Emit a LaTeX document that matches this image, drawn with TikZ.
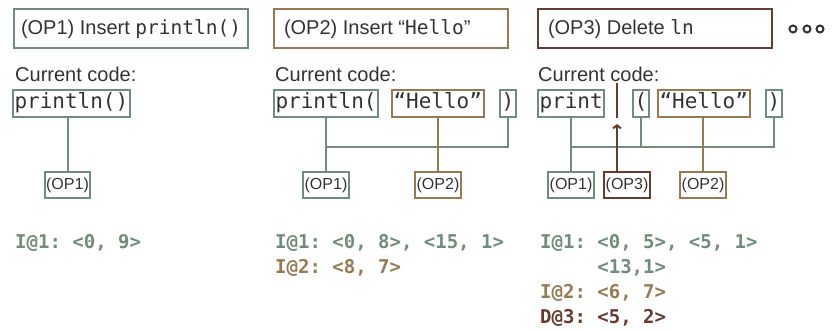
\documentclass[tikz,border=0pt]{standalone}
\usepackage{fontspec}
\setmainfont{Liberation Sans}
\setmonofont{DejaVu Sans Mono}
\usepackage{tikz}
\usetikzlibrary{arrows.meta,positioning}

\definecolor{opgreen}{RGB}{112,140,124}
\definecolor{opbrown}{RGB}{152,122,82}
\definecolor{opred}{RGB}{104,58,48}
\definecolor{ink}{RGB}{51,51,51}

\newcommand{\headfont}{\fontsize{20}{24}\selectfont}
\newcommand{\srcfont}{\ttfamily\fontsize{21}{25}\selectfont}
\newcommand{\opfont}{\fontsize{16}{18}\selectfont}
\newcommand{\tracefont}{\ttfamily\bfseries\fontsize{19}{25}\selectfont}
\newcommand{\inl}[1]{{\ttfamily\fontsize{19.5}{24}\selectfont #1}}
\newcommand{\headline}[1]{\hbox to 220pt{#1\hfil}}

\begin{document}
\begin{tikzpicture}[x=1pt, y=-1pt,
  head/.style={draw, line width=2pt, text=ink, font=\headfont, anchor=west,
    inner xsep=7pt, minimum height=39pt},
  src/.style={draw=opgreen, line width=2pt, text=ink, font=\srcfont, anchor=west,
    inner xsep=1.5pt, inner ysep=0pt, text height=15pt, text depth=5pt, minimum height=27pt},
  lab/.style={text=ink, font=\headfont, anchor=base west, inner sep=0pt},
  op/.style={draw, line width=1.8pt, text=ink, font=\opfont, inner xsep=1.5pt,
    inner ysep=0pt, minimum height=26pt},
  wire/.style={line width=2pt, opgreen},
  trace/.style={font=\tracefont, anchor=base west, inner sep=0pt}]
  \useasboundingbox (0,0) rectangle (840,331);

  % OP1: insert println()
  \node[head, draw=opgreen] (h1) at (13,29) {\headline{(OP1) Insert \inl{println()}}};
  \node[lab] (cur1) at (15,82) {Current code:};
  \node[src] (c1) at (12,104) {println()};
  \node[op, draw=opgreen] (o1) at (67.5,185) {(OP1)};
  \draw[wire] (o1.north) -- (o1.north |- c1.south);
  \node[trace, opgreen] (t1a) at (15,248) {I@1: <0, 9>};

  % OP2: insert "Hello"
  \node[head, draw=opbrown] (h2) at (273,29) {\headline{\hspace*{3pt}(OP2) Insert “\inl{Hello}”}};
  \node[lab] (cur2) at (275,82) {Current code:};
  \node[src] (c2a) at (273,104) {println(};
  \node[src, draw=opbrown] (c2b) at (391,104) {“Hello”};
  \node[src] (c2c) at (499,104) {)};
  \node[op, draw=opgreen] (o2a) at (326,185) {(OP1)};
  \node[op, draw=opbrown] (o2b) at (438,185) {(OP2)};
  \coordinate (bus2) at (0,147);
  \draw[wire] (o2a.north) -- (o2a.north |- c2a.south);
  \draw[wire] (o2a |- bus2) -| (c2c.south);
  \draw[wire, opbrown] (o2b.north) -- (o2b.north |- c2b.south);
  \node[trace, opgreen] (t2a) at (275,248) {I@1: <0, 8>, <15, 1>};
  \node[trace, opbrown] (t2b) at (275,273) {I@2: <8, 7>};

  % OP3: delete ln
  \node[head, draw=opred] (h3) at (537,29) {\headline{\hspace*{3pt}(OP3) Delete \inl{ln}}};
  \node[lab] (cur3) at (538,82) {Current code:};
  \node[src] (c3a) at (537,104) {print};
  \node[src] (c3b) at (632,104) {(};
  \node[src, draw=opbrown] (c3c) at (657,104) {“Hello”};
  \node[src] (c3d) at (765,104) {)};
  \node[op, draw=opgreen] (o3a) at (571,185) {(OP1)};
  \node[op, draw=opred] (o3c) at (627,185) {(OP3)};
  \node[op, draw=opbrown] (o3b) at (703,185) {(OP2)};
  \coordinate (bus3) at (0,147);
  \draw[wire] (o3a.north) -- (o3a.north |- c3a.south);
  \draw[wire] (o3a |- bus3) -| (c3d.south);
  \draw[wire] (c3b.south) -- (c3b.south |- bus3);
  \draw[wire, opbrown] (o3b.north) -- (o3b.north |- c3c.south);
  % cut mark where ln was
  \coordinate (cut) at (617,83);
  \draw[wire, opred] (cut) -- (cut |- c3a.south);
  \draw[wire, opred, -{Straight Barb[length=3pt, width=8pt]}] (o3c.north -| cut) -- ++(0,-47);
  \node[trace, opgreen] (t3a) at (540,248) {I@1: <0, 5>, <5, 1>};
  \node[trace, opgreen] (t3b) at (540,273) {\hphantom{I@1: }<13,1>};
  \node[trace, opbrown] (t3c) at (540,298) {I@2: <6, 7>};
  \node[trace, opred] (t3d) at (540,323) {D@3: <5, 2>};

  % more ops follow
  \foreach \x in {793,807,820}
    \draw[ink, line width=2pt] (\x,29) circle (3.5pt);
\end{tikzpicture}
\end{document}
